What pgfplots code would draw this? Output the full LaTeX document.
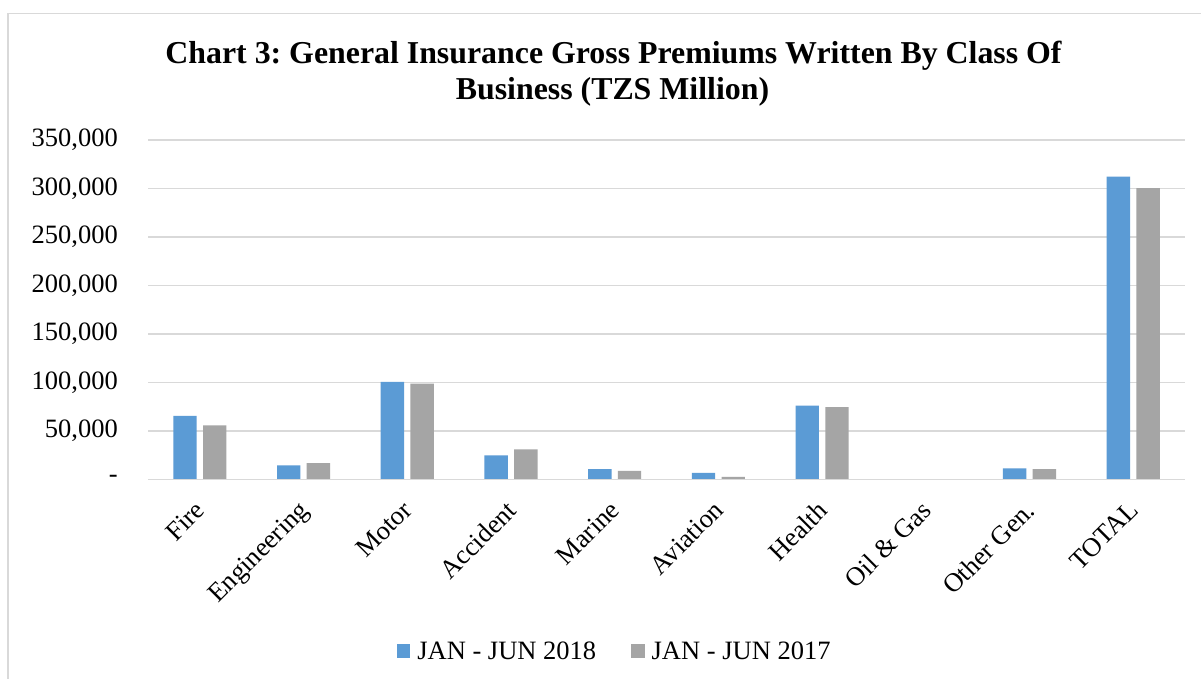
\documentclass[border=0pt]{standalone}
\usepackage{pgfplots}
\pgfplotsset{compat=1.18}
\usepackage{fontspec}
\setmainfont{Liberation Serif}
\frenchspacing
\definecolor{blueS}{HTML}{5B9BD5}
\definecolor{grayS}{HTML}{A5A5A5}
\definecolor{gridC}{HTML}{D9D9D9}
\newcommand{\bodyfont}{\fontsize{26.5bp}{31bp}\selectfont}
\newcommand{\titlefont}{\fontsize{31.85bp}{36.7bp}\selectfont\bfseries}
\begin{document}
\begin{tikzpicture}[x=1bp,y=1bp]
\useasboundingbox (0,0) rectangle (1201,679);
\fill[white] (0,0) rectangle (1201,679);
\draw[gridC, line width=1.5bp] (8,-10) -- (8,665.5) -- (1215,665.5);
\node[anchor=base, font=\titlefont, inner sep=0] at (613.5,615.7) {Chart 3: General Insurance Gross Premiums Written By Class Of};
\node[anchor=base, font=\titlefont, inner sep=0] at (612.5,579) {Business (TZS Million)};
\begin{axis}[
  at={(148bp,199.7bp)}, anchor=south west,
  scale only axis, width=1037bp, height=339.3bp,
  xmin=-0.5, xmax=9.5, ymin=0, ymax=350000,
  scaled y ticks=false,
  axis line style={draw=none},
  axis x line*=bottom,
  major tick length=0pt,
  ymajorgrids, grid style={gridC, line width=1.5bp},
  ytick={0,50000,100000,150000,200000,250000,300000,350000},
  yticklabels={{-},{50,000},{100,000},{150,000},{200,000},{250,000},{300,000},{350,000}},
  xtick={0,...,9},
  xticklabels={Fire,Engineering,Motor,Accident,Marine,Aviation,Health,{Oil \& Gas},{Other Gen.},TOTAL},
  tick label style={font=\bodyfont, text=black},
  yticklabel style={anchor=east, inner sep=0pt, xshift=-30bp},
  xticklabel style={xshift=-6bp, yshift=-20bp, rotate=45, anchor=north east, inner sep=0pt},
  ybar, bar width=23.4bp,
  legend style={at={(0.45,-0.506)}, anchor=center, draw=none, fill=none, font=\bodyfont, legend columns=2,
    /tikz/every odd column/.append style={column sep=5bp},
    /tikz/every even column/.append style={column sep=33bp}},
  legend image code/.code={\fill[#1] (0bp,-7bp) rectangle (13.5bp,6.5bp);},
  clip=false,
]
\addplot[fill=blueS, draw=none, bar shift=-14.85bp] coordinates {
(0,65400) (1,14400) (2,100400) (3,24700) (4,10600) (5,6500) (6,76100) (7,0) (8,11300) (9,312300)};
\addplot[fill=grayS, draw=none, bar shift=14.85bp] coordinates {
(0,55500) (1,16800) (2,98800) (3,30900) (4,8800) (5,2400) (6,74400) (7,0) (8,10600) (9,300400)};
\draw[gridC, line width=1.5bp] (axis cs:-0.5,0) -- (axis cs:9.5,0);
\legend{JAN - JUN 2018, JAN - JUN 2017}
\end{axis}
\end{tikzpicture}
\end{document}
